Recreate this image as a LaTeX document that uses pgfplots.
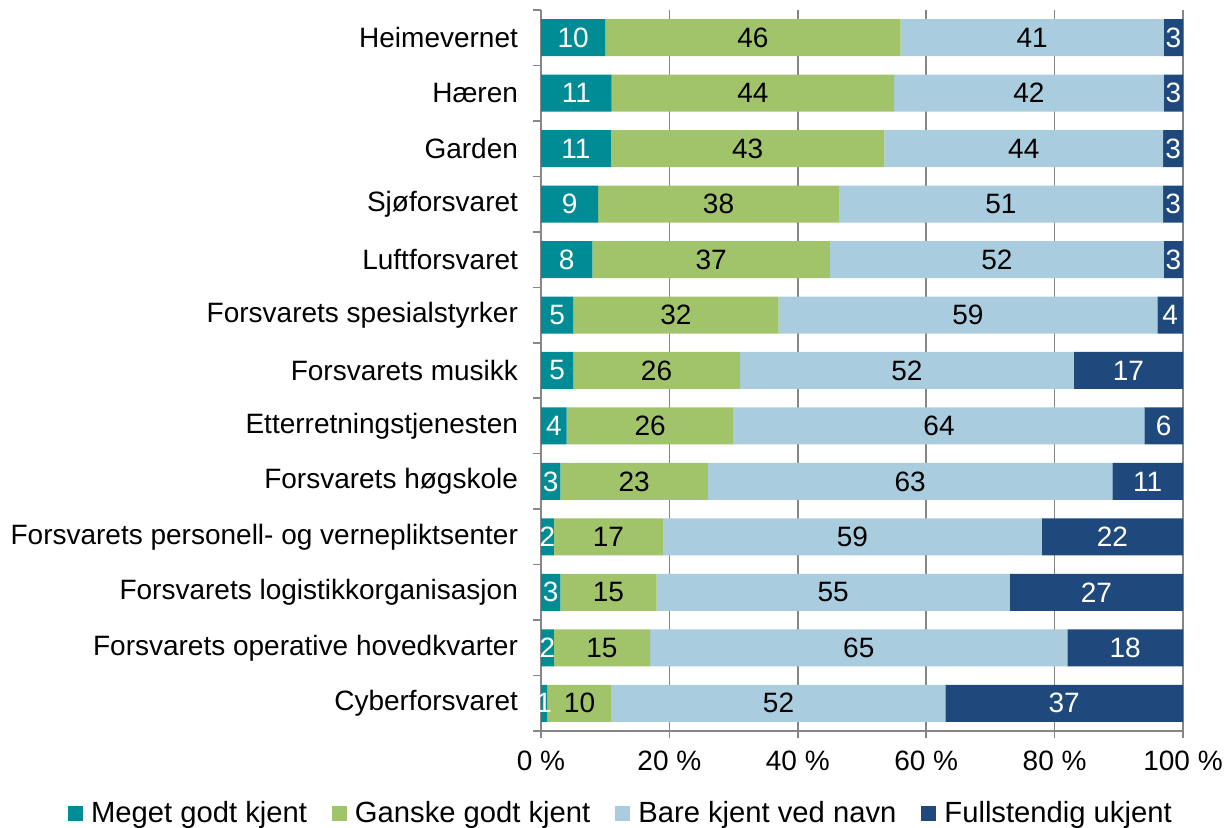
\documentclass[border=0pt]{standalone}
\usepackage{fontspec}
\setmainfont{Liberation Sans}
\usepackage{pgfplots}
\usepackage{pgfplotstable}
\pgfplotsset{compat=1.18}
\definecolor{meget}{RGB}{0,140,149}
\definecolor{ganske}{RGB}{161,196,107}
\definecolor{bare}{RGB}{169,204,222}
\definecolor{fullst}{RGB}{31,73,125}
\definecolor{gridgray}{RGB}{134,134,134}
\pgfplotstableread{
y  a    la  b    lb  c    lc  d   ld
12 10   10  46   46  41   41  3   3
11 11   11  44   44  42   42  3   3
10 10.9 11  42.6 43  43.4 44  3.1 3
9  8.9  9   37.5 38  50.5 51  3.1 3
8  8    8   37   37  52   52  3   3
7  5    5   32   32  59   59  4   4
6  5    5   26   26  52   52  17  17
5  4    4   26   26  64   64  6   6
4  3    3   23   23  63   63  11  11
3  2    2   17   17  59   59  22  22
2  3    3   15   15  55   55  27  27
1  2    2   15   15  65   65  18  18
0  1    1   10   10  52   52  37  37
}\data
\begin{document}
\begin{tikzpicture}[font=\fontsize{14pt}{16.5pt}\selectfont]
\path[use as bounding box] (0,0) rectangle (615pt,414pt);
\begin{axis}[
  at={(270.5pt,48.5pt)}, anchor=south west,
  scale only axis, width=321pt, height=360.5pt,
  xbar stacked, bar width=18.5pt,
  xmin=0, xmax=100, ymin=-0.5, ymax=12.5,
  axis x line*=bottom, axis y line*=left,
  axis line style={draw=gridgray, line width=0.75pt},
  xtick={0,20,...,100},
  xticklabel={\pgfmathprintnumber{\tick}~\%},
  /pgf/number format/assume math mode=true,
  xticklabel style={yshift=-3pt},
  xmajorgrids, grid style={draw=gridgray, line width=0.75pt},
  ytick={0,...,12},
  yticklabels={Cyberforsvaret, Forsvarets operative hovedkvarter, Forsvarets logistikkorganisasjon, Forsvarets personell- og vernepliktsenter, Forsvarets høgskole, Etterretningstjenesten, Forsvarets musikk, Forsvarets spesialstyrker, Luftforsvaret, Sjøforsvaret, Garden, Hæren, Heimevernet},
  minor ytick={-0.5,0.5,...,12.5},
  tick align=outside, major tick length=3.5pt, minor tick length=4pt,
  major y tick style={draw=none},
  minor y tick style={draw=gridgray, line width=0.75pt},
  x tick style={draw=gridgray, line width=0.75pt},
  yticklabel style={xshift=-4.5pt},
  nodes near coords,
  point meta=explicit symbolic,
  every node near coord/.append style={anchor=center, inner sep=0pt},
  legend columns=4,
  legend style={at={(0.126,-0.115)}, anchor=center, draw=none, fill=none,
    font=\fontsize{14.6pt}{17pt}\selectfont,
    /tikz/every even column/.append style={column sep=10.5pt}},
  legend image code/.code={\fill[#1] (0pt,-3.75pt) rectangle (7.5pt,3.75pt); \path (9.5pt,0pt);},
]
\addplot[fill=meget, draw=none, every node near coord/.append style={text=white}] table[x=a, y=y, meta=la] {\data};
\addplot[fill=ganske, draw=none, every node near coord/.append style={text=black}] table[x=b, y=y, meta=lb] {\data};
\addplot[fill=bare, draw=none, every node near coord/.append style={text=black}] table[x=c, y=y, meta=lc] {\data};
\addplot[fill=fullst, draw=none, every node near coord/.append style={text=white}] table[x=d, y=y, meta=ld] {\data};
\legend{Meget godt kjent, Ganske godt kjent, Bare kjent ved navn, Fullstendig ukjent}
\end{axis}
\end{tikzpicture}
\end{document}
